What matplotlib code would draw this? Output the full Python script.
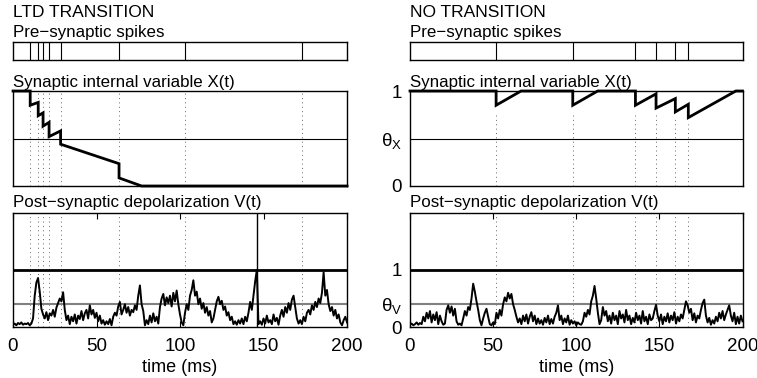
import numpy as np
import matplotlib
matplotlib.use('Agg')
import matplotlib.pyplot as plt

plt.rcParams['font.family'] = ['Liberation Sans', 'DejaVu Sans']
plt.rcParams['mathtext.fontset'] = 'custom'
plt.rcParams['mathtext.rm'] = 'Liberation Sans'
plt.rcParams['mathtext.it'] = 'Liberation Sans'

# ----- data -----
panel_titles = ['LTD TRANSITION', 'NO TRANSITION']
x_ticks = [0, 50, 100, 150, 200]

# pre-synaptic spike times (ms)
spikes_ltd = [10.3, 15.1, 18.0, 21.6, 28.5, 63.5, 103.0, 173.0]
spikes_none = [51.8, 97.9, 135.6, 148.0, 159.6, 167.4]

# synaptic variable X(t), breakpoints (time, value)
x_time_ltd = [0, 10.3, 10.3, 15.1, 15.1, 18.0, 18.0, 21.6, 21.6, 28.5, 28.5, 63.5, 63.5, 77.0, 200]
x_val_ltd = [1, 1, 0.85, 0.88, 0.74, 0.77, 0.63, 0.67, 0.52, 0.58, 0.44, 0.235, 0.085, 0, 0]
x_time_none = [0, 51.8, 51.8, 66.8, 97.9, 97.9, 112.9, 135.6, 135.6, 148.0, 148.0, 159.6, 159.6, 167.4, 167.4, 196.0, 200]
x_val_none = [1, 1, 0.85, 1, 1, 0.85, 1, 1, 0.85, 0.97, 0.82, 0.92, 0.78, 0.86, 0.72, 1, 1]

theta_x = 0.5
theta_v = 0.41

# post-synaptic depolarization V(t), one value per ms (0..200)
v_ltd = [0.04, 0.06, 0.03, 0.07, 0.05, 0.08, 0.04, 0.06, 0.05, 0.07,
         0.03, 0.06, 0.15, 0.55, 0.78, 0.86, 0.62, 0.32, 0.22, 0.15,
         0.26, 0.12, 0.24, 0.20, 0.30, 0.18, 0.34, 0.42, 0.50, 0.45,
         0.61, 0.30, 0.12, 0.20, 0.05, 0.18, 0.10, 0.22, 0.06, 0.20,
         0.14, 0.28, 0.12, 0.24, 0.30, 0.15, 0.38, 0.22, 0.30, 0.16,
         0.25, 0.10, 0.20, 0.06, 0.12, 0.04, 0.10, 0.05, 0.14, 0.03,
         0.18, 0.25, 0.20, 0.36, 0.44, 0.22, 0.30, 0.40, 0.25, 0.35,
         0.20, 0.30, 0.26, 0.38, 0.30, 0.55, 0.73, 0.40, 0.28, 0.03,
         0.12, 0.05, 0.20, 0.08, 0.24, 0.10, 0.18, 0.06, 0.35, 0.50,
         0.58, 0.38, 0.52, 0.42, 0.55, 0.36, 0.60, 0.45, 0.64, 0.40,
         0.22, 0.08, 0.03, 0.25, 0.40, 0.30, 0.55, 0.65, 0.82, 0.55,
         0.62, 0.40, 0.50, 0.32, 0.42, 0.25, 0.35, 0.20, 0.28, 0.08,
         0.15, 0.30, 0.45, 0.53, 0.40, 0.46, 0.30, 0.36, 0.20, 0.26,
         0.12, 0.18, 0.05, 0.10, 0.04, 0.12, 0.06, 0.15, 0.05, 0.18,
         0.10, 0.25, 0.44, 0.30, 0.55, 0.80, 1.00, 0.05, 0.10, 0.04,
         0.15, 0.06, 0.20, 0.08, 0.12, 0.05, 0.22, 0.10, 0.16, 0.04,
         0.20, 0.30, 0.18, 0.35, 0.25, 0.42, 0.30, 0.48, 0.55, 0.35,
         0.15, 0.06, 0.12, 0.05, 0.18, 0.10, 0.25, 0.30, 0.22, 0.38,
         0.30, 0.44, 0.35, 0.50, 0.42, 0.60, 0.96, 0.55, 0.65, 0.40,
         0.28, 0.35, 0.20, 0.30, 0.15, 0.22, 0.08, 0.03, 0.12, 0.18,
         0.08]
v_none = [0.04, 0.06, 0.03, 0.05, 0.08, 0.04, 0.07, 0.05, 0.18, 0.10,
          0.25, 0.15, 0.28, 0.08, 0.22, 0.12, 0.26, 0.05, 0.20, 0.10,
          0.04, 0.06, 0.30, 0.38, 0.25, 0.36, 0.20, 0.32, 0.10, 0.04,
          0.06, 0.03, 0.15, 0.28, 0.20, 0.35, 0.30, 0.50, 0.76, 0.62,
          0.45, 0.30, 0.12, 0.03, 0.15, 0.25, 0.32, 0.18, 0.05, 0.03,
          0.08, 0.05, 0.25, 0.15, 0.30, 0.20, 0.40, 0.52, 0.45, 0.60,
          0.50, 0.58, 0.40, 0.30, 0.18, 0.08, 0.15, 0.05, 0.20, 0.10,
          0.22, 0.06, 0.18, 0.26, 0.10, 0.20, 0.05, 0.15, 0.06, 0.12,
          0.04, 0.16, 0.08, 0.20, 0.05, 0.14, 0.06, 0.18, 0.25, 0.38,
          0.12, 0.20, 0.05, 0.15, 0.08, 0.20, 0.04, 0.12, 0.06, 0.10,
          0.03, 0.08, 0.05, 0.04, 0.10, 0.25, 0.18, 0.30, 0.22, 0.45,
          0.55, 0.72, 0.50, 0.25, 0.05, 0.12, 0.35, 0.20, 0.28, 0.10,
          0.20, 0.06, 0.25, 0.12, 0.20, 0.05, 0.28, 0.15, 0.22, 0.08,
          0.30, 0.12, 0.20, 0.05, 0.16, 0.08, 0.25, 0.12, 0.20, 0.06,
          0.28, 0.10, 0.18, 0.05, 0.22, 0.12, 0.15, 0.28, 0.39, 0.20,
          0.10, 0.22, 0.05, 0.18, 0.10, 0.24, 0.08, 0.20, 0.12, 0.26,
          0.06, 0.18, 0.10, 0.22, 0.15, 0.30, 0.45, 0.38, 0.25, 0.32,
          0.12, 0.24, 0.08, 0.20, 0.15, 0.30, 0.42, 0.48, 0.20, 0.08,
          0.16, 0.04, 0.12, 0.06, 0.18, 0.10, 0.25, 0.15, 0.28, 0.12,
          0.22, 0.30, 0.38, 0.20, 0.10, 0.25, 0.05, 0.18, 0.06, 0.20,
          0.10]

# post-synaptic spike (V reaches threshold 1)
post_spikes_ltd = [146.0]
post_spikes_none = []

t = np.arange(201)

# ----- figure -----
W, H = 757, 378
fig = plt.figure(figsize=(W / 100, H / 100), dpi=100)

def box(x0, x1, y0, y1):
    # pixel box -> figure fraction
    return [x0 / W, 1 - y1 / H, (x1 - x0) / W, (y1 - y0) / H]

DOTS = (0, (1, 3.5))

columns = [
    (13, 347, spikes_ltd, x_time_ltd, x_val_ltd, v_ltd, post_spikes_ltd, False),
    (410, 742.5, spikes_none, x_time_none, x_val_none, v_none, post_spikes_none, True),
]

for i, (xl, xr, spk, xt, xv, vv, post, labels) in enumerate(columns):
    fig.text(xl / W, 1 - 12.5 / H, panel_titles[i], fontsize=12.5, va='center', ha='left')
    fig.text(xl / W, 1 - 33 / H, 'Pre\u2212synaptic spikes', fontsize=12.2, va='center', ha='left')
    fig.text(xl / W, 1 - 83 / H, 'Synaptic internal variable X(t)', fontsize=12.2, va='center', ha='left')
    fig.text(xl / W, 1 - 202 / H, 'Post\u2212synaptic depolarization V(t)', fontsize=12.2, va='center', ha='left')

    # spike raster
    ax_s = fig.add_axes(box(xl, xr, 42, 60))
    for s in spk:
        ax_s.axvline(s, color='black', lw=0.8)
    ax_s.set_xlim(0, 200)
    ax_s.set_ylim(0, 1)
    ax_s.set_xticks([])
    ax_s.set_yticks([])

    # X(t)
    ax_x = fig.add_axes(box(xl, xr, 91, 186))
    for s in spk:
        if labels:
            # dots only below the trace
            top = np.interp(s + 0.01, xt, xv) - 0.07
            ax_x.plot([s, s], [0, top], ls=DOTS, color='0.4', lw=0.7)
        else:
            ax_x.axvline(s, ls=DOTS, color='0.4', lw=0.7)
    ax_x.axhline(theta_x, color='black', lw=0.8)
    ax_x.plot(xt, xv, color='black', lw=2, clip_on=False, solid_joinstyle='miter')
    ax_x.set_xlim(0, 200)
    ax_x.set_ylim(0, 1)
    ax_x.set_xticks([])
    if labels:
        ax_x.set_yticks([0, theta_x, 1])
        ax_x.set_yticklabels(['0', r'$\theta_{X}$', '1'], fontsize=13.5)
        ax_x.tick_params(axis='y', direction='in', length=0, pad=6)
    else:
        ax_x.set_yticks([])

    # V(t)
    ax_v = fig.add_axes(box(xl, xr, 213, 327))
    for s in spk:
        ax_v.axvline(s, ls=DOTS, color='0.4', lw=0.7)
    ax_v.axhline(1, color='black', lw=2)
    ax_v.axhline(theta_v, color='0.5', lw=1.5)
    ax_v.plot(t, vv, color='black', lw=1.4)
    for p in post:
        ax_v.axvline(p, color='black', lw=1)
    ax_v.set_xlim(0, 200)
    ax_v.set_ylim(0, 2)
    ax_v.set_xticks(x_ticks)
    ax_v.set_xticklabels([str(v) for v in x_ticks], fontsize=13.5)
    ax_v.tick_params(axis='x', direction='in', length=4, top=True, pad=8)
    ax_v.set_xlabel('time (ms)', fontsize=13, labelpad=3)
    if labels:
        ax_v.set_yticks([0, theta_v, 1])
        ax_v.set_yticklabels(['0', r'$\theta_{V}$', '1'], fontsize=13.5)
        ax_v.tick_params(axis='y', direction='in', length=0, pad=6)
    else:
        ax_v.set_yticks([])

    for a in (ax_s, ax_x, ax_v):
        for sp in a.spines.values():
            sp.set_linewidth(1)

fig.savefig('out.png', dpi=100)
